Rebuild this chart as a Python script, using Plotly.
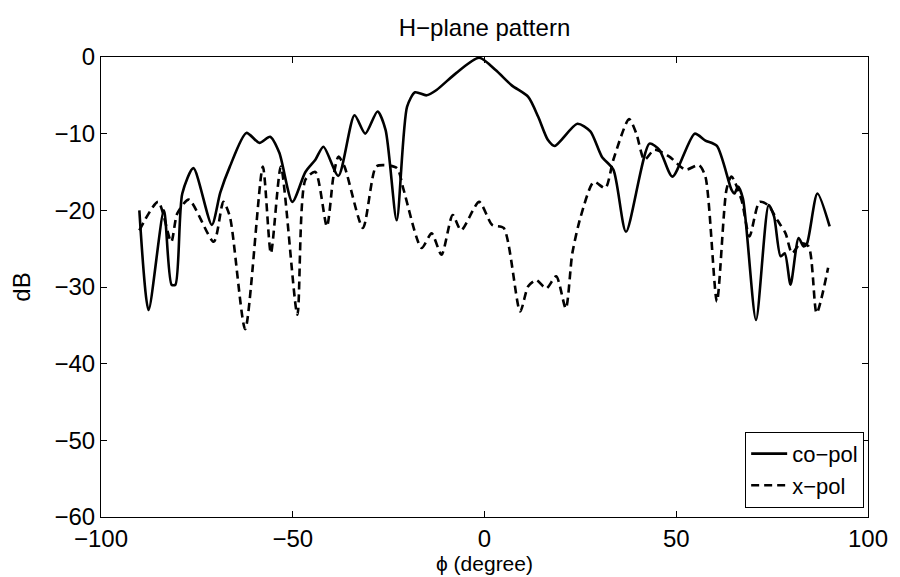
import plotly.graph_objects as go

# H-plane pattern, values
co_phi = [-90, -87.6, -83.6, -81.6, -80.6, -78.8, -75.9, -71.1, -68.9, -66.4, -62.1,
          -58.7, -55.9, -53.5, -50.1, -46.7, -44.1, -42, -38.1, -33.9, -31.1, -27.9,
          -25.8, -22.9, -20.2, -18.1, -15.1, -12.5, -7.4, -1.4, 2.9, 7.1, 11.4, 14,
          16.5, 18.3, 24.2, 27.6, 30.6, 33.6, 36.9, 43, 45.6, 49, 54.8, 57.6,
          60.6, 64.4, 65.2, 66.1, 67.4, 70.8, 74.1, 75.5, 77.2, 78.3, 79.8, 81.9,
          83.2, 84.1, 86.8, 90]
co_db = [-20, -33, -20, -29.7, -29.7, -17.8, -14.5, -21.9, -17.7, -14.3, -9.9,
         -11.2, -10.4, -12.5, -18.9, -15, -13.4, -11.7, -15.5, -7.6, -10, -7.1,
         -9.5, -21.3, -6.5, -4.6, -5, -4.3, -2.1, -0.1, -1.7, -3.7, -5.2, -7.8,
         -10.8, -11.6, -8.7, -9.7, -13, -14.7, -22.8, -11.3, -12.1, -15.6, -10, -10.9,
         -11.6, -17.3, -17.8, -16.9, -18.5, -34.3, -19.3, -20.8, -26, -25.6, -29.7, -23.6,
         -24.7, -24.3, -17.8, -22.1]

xp_phi = [-90, -85.1, -81.7, -80.1, -77.1, -70.6, -68.1, -66.4, -62.4, -57.8, -55.7,
          -53.1, -48.8, -46.7, -44.1, -41.1, -39.4, -38.1, -36.5, -31.7, -28.3, -26.2,
          -22.8, -21.1, -16.4, -13.8, -11.2, -8.3, -6.1, -1.4, 2, 5, 9.3, 11.4,
          13.5, 16.1, 18.7, 21.2, 22.9, 25.1, 28.5, 31.5, 33.6, 37.7, 39.6, 41.7,
          44.3, 48.2, 52.4, 55.9, 57.6, 60.6, 63.1, 64.4, 67, 69.1, 71.7, 73.9,
          76.4, 78.5, 80.2, 82.4, 84.5, 86.6, 89.6]
xp_db = [-22.6, -18.9, -24.1, -20.4, -18.6, -24.1, -18.9, -20.8, -35.5, -14.3, -25.6,
         -14.3, -33.6, -16, -15, -22.1, -15.6, -13, -14.3, -22.3, -14.3, -14.1,
         -14.5, -17.3, -24.9, -23, -25.8, -20.6, -22.6, -18.9, -21.9, -22.3, -33.2, -29.9,
         -29.1, -30.2, -28.6, -32.8, -25.6, -20.8, -16.3, -17.1, -13.4, -8.1, -10, -13.4,
         -12.1, -13, -14.7, -14.1, -15.6, -31.9, -17.3, -15.6, -18.6, -23.4, -18.9,
         -19.3, -21.3, -23, -25.6, -24.3, -24.7, -33.4, -27.5]

x_ticks = [-100, -50, 0, 50, 100]
y_ticks = [0, -10, -20, -30, -40, -50, -60]

FONT = "Liberation Sans, Arial, sans-serif"
FS = 24


def minus(v):
    return str(v).replace("-", "\u2212")


fig = go.Figure()
fig.add_trace(go.Scatter(x=co_phi, y=co_db, mode="lines", name="co\u2212pol",
                         line=dict(color="black", width=2.6, shape="spline", smoothing=0.7)))
fig.add_trace(go.Scatter(x=xp_phi, y=xp_db, mode="lines", name="x\u2212pol",
                         line=dict(color="black", width=2.6, dash="8px,5px",
                                   shape="spline", smoothing=0.7)))

axis_common = dict(
    showgrid=False, zeroline=False, showline=True, linecolor="black", linewidth=1,
    mirror="ticks", ticks="inside", ticklen=6, tickcolor="black",
    tickfont=dict(family=FONT, size=FS, color="black"),
)

fig.update_xaxes(range=[-100, 100], tickvals=x_ticks, ticktext=[minus(v) for v in x_ticks],
                 ticklabelstandoff=0, **axis_common)
fig.update_yaxes(range=[-60, 0], tickvals=y_ticks, ticktext=[minus(v) for v in y_ticks],
                 title=dict(text="dB", font=dict(family=FONT, size=FS, color="black"), standoff=18),
                 **axis_common)

# x-axis title placed by hand, bottom of its box just inside the page
fig.add_annotation(text="\u03d5 (degree)", xref="paper", yref="paper", x=0.5, y=-0.128,
                   xanchor="center", yanchor="bottom", showarrow=False, borderpad=0,
                   font=dict(family=FONT, size=21, color="black"))

# the page body keeps its default 8px margin, so the figure is sized to fit the window
fig.update_layout(
    width=892, height=569,
    margin=dict(l=89, r=26, t=49, b=60),
    paper_bgcolor="white", plot_bgcolor="white",
    title=dict(text="H\u2212plane pattern", x=0.5, xref="paper", y=0.965, yanchor="middle",
               font=dict(family=FONT, size=FS, color="black")),
    legend=dict(x=0.995, y=0.02, xanchor="right", yanchor="bottom",
                bgcolor="white", bordercolor="black", borderwidth=1,
                font=dict(family=FONT, size=22, color="black"),
                itemwidth=36, tracegroupgap=0),
    showlegend=True,
)

fig.write_html("out.html")
